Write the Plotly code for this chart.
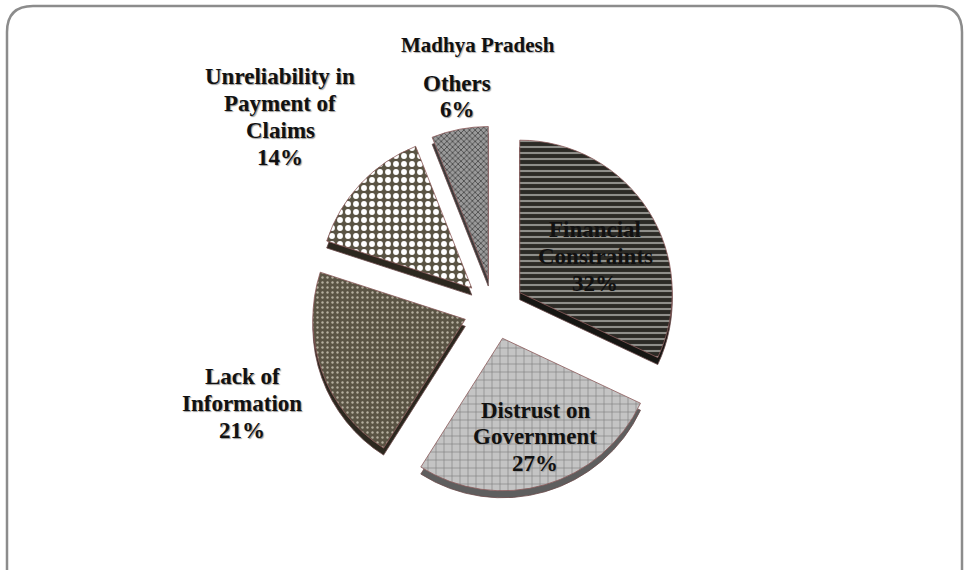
import plotly.graph_objects as go

# ---- data ----
categories = ["Financial Constraints", "Distrust on Government", "Lack of Information",
              "Unreliability in Payment of Claims", "Others"]
values = [32, 27, 21, 14, 6]
label_lines = [["Financial", "Constraints"], ["Distrust on", "Government"], ["Lack of", "Information"],
               ["Unreliability in", "Payment of", "Claims"], ["Others"]]
title_text = "Madhya Pradesh"

# ---- style ----
W, H = 964, 570
bg_colors = ["#2b2a25", "#c4c4c4", "#5a5444", "#5a5444", "#9a9a9a"]
fg_colors = ["#8e8e89", "#7c7c7c", "#b5b0a0", "#ffffff", "#2e2e2e"]
shapes_pat = ["-", "+", ".", ".", "x"]
sizes_pat = [6, 8, 5, 8, 4]
solid_pat = [0.35, 0.15, 0.18, 0.42, 0.3]
side_colors = ["#161613", "#5e5e5e", "#2c281f", "#2c281f", "#3a3a3a"]
pull = 0.2

cx, cy, half = 494, 309, 183
def px_x(x): return x / W
def px_y(y): return 1 - y / H

dom_x = [px_x(cx - half), px_x(cx + half)]
dom_y = [px_y(cy + half), px_y(cy - half)]
depth = 7 / H

fig = go.Figure()
# side/thickness layer
fig.add_trace(go.Pie(
    labels=categories, values=values, sort=False, direction="clockwise", rotation=0,
    pull=[pull] * len(values), textinfo="none", hoverinfo="skip", showlegend=False,
    marker=dict(colors=side_colors, line=dict(color="#6b4a4a", width=0.8)),
    domain=dict(x=dom_x, y=[dom_y[0] - depth, dom_y[1] - depth]),
))
# top layer
fig.add_trace(go.Pie(
    labels=categories, values=values, sort=False, direction="clockwise", rotation=0,
    pull=[pull] * len(values), textinfo="none", hoverinfo="skip", showlegend=False,
    marker=dict(colors=bg_colors, line=dict(color="#8b5a5a", width=0.8),
                pattern=dict(shape=shapes_pat, fgcolor=fg_colors, bgcolor=bg_colors,
                             size=sizes_pat, solidity=solid_pat, fillmode="replace")),
    domain=dict(x=dom_x, y=dom_y),
))

# label block positions (pixels: center x, first-line center y)
label_pos = [(595, 230), (535, 410), (242, 377), (280, 77), (457, 83)]
line_gap = 26.7
total = sum(values)
shadows = ["none", "1px 1px 1px #9a9a9a", "1px 1px 1px #9a9a9a", "1px 1px 1px #9a9a9a", "1px 1px 1px #9a9a9a"]
for lines, v, (x, y), sh in zip(label_lines, values, label_pos, shadows):
    all_lines = lines + [f"{round(100 * v / total)}%"]
    for i, t in enumerate(all_lines):
        fig.add_annotation(
            text=f"<b>{t}</b>", x=px_x(x), y=px_y(y + i * line_gap),
            xref="paper", yref="paper", showarrow=False, align="center",
            xanchor="center", yanchor="middle",
            font=dict(family="Liberation Serif", size=23, color="#111111", shadow=sh),
        )

fig.add_annotation(
    text=f"<b>{title_text}</b>", x=px_x(478), y=px_y(45), xref="paper", yref="paper",
    showarrow=False, xanchor="center", yanchor="middle",
    font=dict(family="Liberation Serif", size=21, color="#111111", shadow="1px 1px 1px #b0b0b0"),
)

# rounded frame
x0, y0, x1, y1, r = 7, 6, 962, 600, 26
path = (f"M {px_x(x0)},{px_y(y0 + r)} Q {px_x(x0)},{px_y(y0)} {px_x(x0 + r)},{px_y(y0)} "
        f"L {px_x(x1 - r)},{px_y(y0)} Q {px_x(x1)},{px_y(y0)} {px_x(x1)},{px_y(y0 + r)} "
        f"L {px_x(x1)},{px_y(y1 - r)} Q {px_x(x1)},{px_y(y1)} {px_x(x1 - r)},{px_y(y1)} "
        f"L {px_x(x0 + r)},{px_y(y1)} Q {px_x(x0)},{px_y(y1)} {px_x(x0)},{px_y(y1 - r)} Z")
fig.add_shape(type="path", path=path, xref="paper", yref="paper",
              line=dict(color="#8c8c8c", width=2.5), layer="below")

fig.update_layout(
    width=W, height=H, margin=dict(l=0, r=0, t=0, b=0),
    paper_bgcolor="white", plot_bgcolor="white", showlegend=False,
)
fig.write_html("out.html", config={"displayModeBar": False},
               post_script="document.body.style.margin='0';")
